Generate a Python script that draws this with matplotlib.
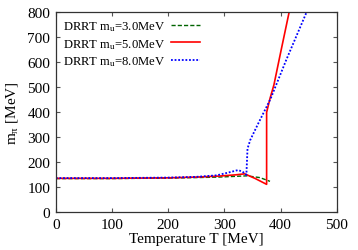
import matplotlib
matplotlib.use("Agg")
import matplotlib.pyplot as plt

plt.rcParams['font.family'] = ['Liberation Serif', 'DejaVu Serif']
plt.rcParams['mathtext.fontset'] = 'custom'
plt.rcParams['mathtext.rm'] = 'Liberation Serif'
plt.rcParams['mathtext.it'] = 'Liberation Serif'

labels = ["DRRT m$_\\mathrm{u}$=3.0MeV", "DRRT m$_\\mathrm{u}$=5.0MeV", "DRRT m$_\\mathrm{u}$=8.0MeV"]

T_3 = [0, 50, 100, 150, 200, 250, 290, 320, 340, 363, 381]
m_3 = [135, 135, 135, 136, 137, 139, 141, 144, 146, 139, 124]

T_5 = [0, 50, 100, 150, 200, 250, 290, 320, 336, 355, 375, 375, 381, 388, 400, 415]
m_5 = [136, 136, 136, 137, 138, 141, 145, 150, 154, 135, 112, 400, 455, 510, 640, 800]

T_8 = [0, 50, 100, 150, 200, 250, 286, 305, 324, 332, 339, 341, 346, 360, 382, 410, 446]
m_8 = [137, 137, 137, 138, 139, 142, 148, 158, 169, 163, 150, 255, 290, 355, 454, 610, 800]

fig = plt.figure(figsize=(3.58, 2.51), dpi=100)
ax = fig.add_axes([0.156, 0.150, 0.785, 0.797])

ax.plot(T_3, m_3, color='#006400', ls=(0, (3, 1.5)), lw=1.0, label=labels[0])
ax.plot(T_5, m_5, color='#ff0000', ls='-', lw=1.2, label=labels[1])
ax.plot(T_8, m_8, color='#0000ff', ls=(0, (1, 1)), lw=1.3, label=labels[2])

ax.set_xlim(0, 500)
ax.set_ylim(0, 800)
ax.set_xticks([0, 100, 200, 300, 400, 500])
ax.set_yticks([0, 100, 200, 300, 400, 500, 600, 700, 800])
ax.tick_params(direction='in', top=True, right=True, labelsize=11, length=3, color='#555555', pad=4)
for s in ax.spines.values():
    s.set_color('#333333')
    s.set_linewidth(0.9)

ax.set_xlabel('Temperature T [MeV]', fontsize=11, labelpad=1)
ax.set_ylabel('m$_\\pi$ [MeV]', fontsize=11, labelpad=5)

ax.legend(loc='upper left', frameon=False, markerfirst=False, fontsize=9.1,
          handlelength=2.3, handletextpad=0.5, labelspacing=0.3,
          borderaxespad=0.35, borderpad=0.2)

fig.savefig('out.png', dpi=100)
